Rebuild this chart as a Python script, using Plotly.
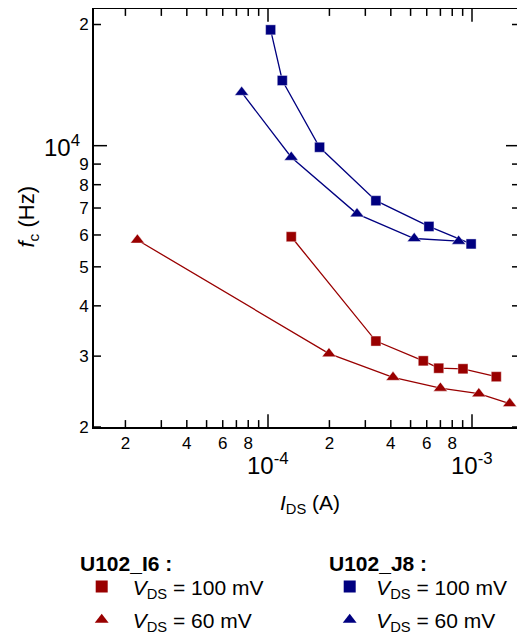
import plotly.graph_objects as go
import numpy as np

# Data (I_DS in A, f_c in Hz)
i6_100_x = [1.30e-4, 3.38e-4, 5.77e-4, 6.87e-4, 9.03e-4, 1.315e-3]
i6_100_y = [5940, 3270, 2920, 2800, 2790, 2667]
i6_60_x = [2.29e-5, 1.99e-4, 4.10e-4, 7.0e-4, 1.08e-3, 1.53e-3]
i6_60_y = [5830, 3043, 2658, 2498, 2420, 2287]
j8_100_x = [1.03e-4, 1.175e-4, 1.79e-4, 3.38e-4, 6.15e-4, 9.9e-4]
j8_100_y = [19400, 14520, 9910, 7300, 6300, 5700]
j8_60_x = [7.43e-5, 1.30e-4, 2.73e-4, 5.21e-4, 8.6e-4]
j8_60_y = [13570, 9360, 6770, 5880, 5790]

x_tick_vals = [2e-5, 3e-5, 4e-5, 5e-5, 6e-5, 7e-5, 8e-5, 9e-5, 1e-4,
               2e-4, 3e-4, 4e-4, 5e-4, 6e-4, 7e-4, 8e-4, 9e-4, 1e-3]
x_tick_text = ["2", "", "4", "", "6", "", "8", "", "",
               "2", "", "4", "", "6", "", "8", "", ""]
x_major_vals = [1e-4, 1e-3]
x_major_text = ["10<sup>-4</sup>", "10<sup>-3</sup>"]
y_tick_vals = [2000, 3000, 4000, 5000, 6000, 7000, 8000, 9000, 10000, 20000]
y_tick_text = ["2", "3", "4", "5", "6", "7", "8", "9", "", "2"]
y_major_vals = [1e4]
y_major_text = ["10<sup>4</sup>"]
legend_titles = ["U102_I6 :", "U102_J8 :"]

RED = "#990000"
BLUE = "#000080"
FONT = "Liberation Sans, Arial, sans-serif"

# page has an 8px body margin: layout coordinates = page coordinates - 8
W, H = 517, 634
L, R, T, B = 86, 6, 1, 210
PW = W - L - R          # 425
PH = H - T - B          # 423
def px_x(p):  # page px -> paper x
    return (p - 8 - L) / PW
def px_y(p):  # page px -> paper y
    return (H - B - (p - 8)) / PH

XDEC = 204.0
YDEC = 407.3
xr = [-4 - (268 - 94) / XDEC, -3 + (519 - 472) / XDEC]
yr = [np.log10(2000), np.log10(20000) + (24.7 - (T + 8)) / YDEC]

fig = go.Figure()

def add_series(x, y, color, symbol, size):
    fig.add_trace(go.Scatter(
        x=x, y=y, mode="lines+markers", showlegend=False,
        line=dict(color=color, width=1.3),
        marker=dict(color=color, symbol=symbol, size=size,
                    line=dict(width=0.8, color="rgba(255,255,255,0.5)"))))

add_series(i6_100_x, i6_100_y, RED, "square", 10)
add_series(i6_60_x, i6_60_y, RED, "triangle-up", 12)
add_series(j8_100_x, j8_100_y, BLUE, "square", 10)
add_series(j8_60_x, j8_60_y, BLUE, "triangle-up", 12)

VDS = "<i>V</i><sub>DS</sub>"
for k, (name, color, sym, lg, sz) in enumerate([
    (VDS + " = 100 mV", RED, "square", "legend", 12),
    (VDS + " = 60 mV", RED, "triangle-up", "legend", 12),
    (VDS + " = 100 mV", BLUE, "square", "legend2", 12),
    (VDS + " = 60 mV", BLUE, "triangle-up", "legend2", 12),
]):
    fig.add_trace(go.Scatter(
        x=[None], y=[None], mode="markers", name=name, legend=lg,
        legendgroup="g%d" % k,
        marker=dict(color=color, symbol=sym, size=sz)))

# ticks (inside, mirrored) drawn as shapes
TICK = dict(color="black", width=1.5)
shapes = []
def tick_len(v, majors):
    return 13 if v in majors else 7
for v in x_tick_vals:
    ly = tick_len(v, x_major_vals) / PH
    shapes.append(dict(type="line", xref="x", yref="paper", x0=v, x1=v,
                       y0=0, y1=ly, line=TICK))
    shapes.append(dict(type="line", xref="x", yref="paper", x0=v, x1=v,
                       y0=1, y1=1 - ly, line=TICK))
for v in y_tick_vals:
    lx = tick_len(v, y_major_vals) / PW
    shapes.append(dict(type="line", xref="paper", yref="y", y0=v, y1=v,
                       x0=0, x1=lx, line=TICK))
    shapes.append(dict(type="line", xref="paper", yref="y", y0=v, y1=v,
                       x0=1, x1=1 - lx, line=TICK))

annotations = []
for v, t in zip(x_major_vals, x_major_text):
    annotations.append(dict(x=np.log10(v), xref="x", y=px_y(452), yref="paper",
                            text=t, showarrow=False, xanchor="center",
                            yanchor="top", font=dict(size=24)))
for v, t in zip(y_major_vals, y_major_text):
    annotations.append(dict(y=np.log10(v), yref="y", x=px_x(82), xref="paper",
                            text=t, showarrow=False, xanchor="right",
                            yanchor="middle", font=dict(size=24)))
annotations.append(dict(x=px_x(310), xref="paper", y=px_y(510),
                        yref="paper", text="<i>I</i><sub>DS</sub> (A)",
                        showarrow=False, xanchor="center", yanchor="middle",
                        font=dict(size=21)))
annotations.append(dict(x=px_x(28), xref="paper", y=px_y(220),
                        yref="paper", text="<i>f</i><sub>c</sub> (Hz)",
                        showarrow=False, xanchor="center", yanchor="middle",
                        textangle=-90, font=dict(size=22)))
for t, xl in zip(legend_titles, [79, 328]):
    annotations.append(dict(x=px_x(xl), xref="paper", y=px_y(570),
                            yref="paper", text="<b>%s</b>" % t,
                            showarrow=False, xanchor="left", yanchor="middle",
                            xshift=-1, font=dict(size=21)))

fig.update_layout(
    width=W, height=H,
    margin=dict(l=L, r=R, t=T, b=B, pad=0),
    plot_bgcolor="white", paper_bgcolor="white",
    font=dict(family=FONT, color="black", size=17),
    shapes=shapes, annotations=annotations,
    xaxis=dict(
        type="log", range=xr, tickmode="array",
        tickvals=x_tick_vals, ticktext=x_tick_text,
        tickfont=dict(size=17), ticks="",
        showline=True, linecolor="black", linewidth=1.8, mirror=True,
        showgrid=False, zeroline=False, automargin=False,
    ),
    yaxis=dict(
        type="log", range=yr, tickmode="array",
        tickvals=y_tick_vals, ticktext=y_tick_text,
        tickfont=dict(size=17), ticks="",
        showline=True, linecolor="black", linewidth=1.8, mirror=True,
        showgrid=False, zeroline=False, automargin=False,
    ),
    legend=dict(
        x=px_x(70.7), y=px_y(573), xanchor="left", yanchor="top",
        font=dict(size=21), bgcolor="rgba(0,0,0,0)", tracegroupgap=3,
        itemwidth=52,
    ),
    legend2=dict(
        x=px_x(323.2), y=px_y(573), xanchor="left", yanchor="top",
        font=dict(size=21), bgcolor="rgba(0,0,0,0)", tracegroupgap=3,
        itemwidth=43,
    ),
)

fig.write_html("out.html")
